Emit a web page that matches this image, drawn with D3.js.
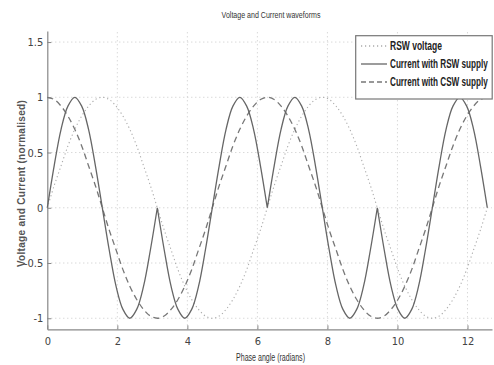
<!DOCTYPE html>
<html><head><meta charset="utf-8">
<script src="https://cdn.jsdelivr.net/npm/d3@7"></script>
<style>body{margin:0;background:#fff}svg{display:block}</style>
</head><body>
<script>
// Phase angle samples (radians), step pi/16 from 0 to 4*pi
const phase = [0,0.196,0.393,0.589,0.785,0.982,1.178,1.374,1.571,1.767,1.963,2.160,2.356,2.553,2.749,2.945,3.142,
3.338,3.534,3.731,3.927,4.123,4.320,4.516,4.712,4.909,5.105,5.301,5.498,5.694,5.890,6.087,6.283,
6.480,6.676,6.872,7.069,7.265,7.461,7.658,7.854,8.050,8.247,8.443,8.639,8.836,9.032,9.228,9.425,
9.621,9.817,10.014,10.210,10.407,10.603,10.799,10.996,11.192,11.388,11.585,11.781,11.977,12.174,12.370,12.566];
const rswVoltage = [0,0.20,0.38,0.56,0.71,0.83,0.92,0.98,1,0.98,0.92,0.83,0.71,0.56,0.38,0.20,0,
-0.20,-0.38,-0.56,-0.71,-0.83,-0.92,-0.98,-1,-0.98,-0.92,-0.83,-0.71,-0.56,-0.38,-0.20,0,
0.20,0.38,0.56,0.71,0.83,0.92,0.98,1,0.98,0.92,0.83,0.71,0.56,0.38,0.20,0,
-0.20,-0.38,-0.56,-0.71,-0.83,-0.92,-0.98,-1,-0.98,-0.92,-0.83,-0.71,-0.56,-0.38,-0.20,0];
const currentRsw = [0,0.38,0.71,0.92,1,0.92,0.71,0.38,0,-0.38,-0.71,-0.92,-1,-0.92,-0.71,-0.38,0,
-0.38,-0.71,-0.92,-1,-0.92,-0.71,-0.38,0,0.38,0.71,0.92,1,0.92,0.71,0.38,0,
0.38,0.71,0.92,1,0.92,0.71,0.38,0,-0.38,-0.71,-0.92,-1,-0.92,-0.71,-0.38,0,
-0.38,-0.71,-0.92,-1,-0.92,-0.71,-0.38,0,0.38,0.71,0.92,1,0.92,0.71,0.38,0];
const currentCsw = [1,0.98,0.92,0.83,0.71,0.56,0.38,0.20,0,-0.20,-0.38,-0.56,-0.71,-0.83,-0.92,-0.98,-1,
-0.98,-0.92,-0.83,-0.71,-0.56,-0.38,-0.20,0,0.20,0.38,0.56,0.71,0.83,0.92,0.98,1,
0.98,0.92,0.83,0.71,0.56,0.38,0.20,0,-0.20,-0.38,-0.56,-0.71,-0.83,-0.92,-0.98,-1,
-0.98,-0.92,-0.83,-0.71,-0.56,-0.38,-0.20,0,0.20,0.38,0.56,0.71,0.83,0.92,0.98,1];
// sample indices where the RSW current has a sharp cusp (pi, 2pi, 3pi)
const rswCusps = [16, 32, 48];
const xTicks = [0,2,4,6,8,10,12];
const yTicks = [-1,-0.5,0,0.5,1,1.5];
const yTickLabels = ["-1","-0.5","0","0.5","1","1.5"];
const seriesNames = ["RSW voltage","Current with RSW supply","Current with CSW supply"];

const W = 494, H = 365;
const svg = d3.select("body").append("svg").attr("width", W).attr("height", H);
const font = "'Liberation Sans','Arial',sans-serif";

// squeeze a text horizontally to a target width (like the narrow reference glyphs)
function fitText(t, px, py, target, anchor, rotate) {
  const nat = t.node().getComputedTextLength();
  const sx = Math.min(1, target / nat);
  t.attr("x", 0).attr("y", 0).attr("text-anchor", anchor);
  t.attr("transform", rotate
    ? `translate(${px},${py}) rotate(-90) scale(${sx},1)`
    : `translate(${px},${py}) scale(${sx},1)`);
}

const x = d3.scaleLinear().domain([0, 12.7]).range([47.3, 492]);
const y = d3.scaleLinear().domain([-1.1, 1.6]).range([329.3, 31]);

// grid
const grid = svg.append("g");
grid.selectAll(".gx").data(xTicks.filter(d => d > 0)).enter().append("line")
  .attr("x1", d => x(d)).attr("x2", d => x(d)).attr("y1", y(-1.1)).attr("y2", y(1.6))
  .attr("stroke", "#bbb").attr("stroke-width", 0.8).attr("stroke-dasharray", "1,3");
grid.selectAll(".gy").data(yTicks).enter().append("line")
  .attr("x1", x(0)).attr("x2", x(12.7)).attr("y1", d => y(d)).attr("y2", d => y(d))
  .attr("stroke", "#bbb").attr("stroke-width", 0.8).attr("stroke-dasharray", "1,3");

// axes
const xAxis = d3.axisBottom(x).tickValues(xTicks).tickSizeInner(-4).tickSizeOuter(0).tickPadding(8);
const yAxis = d3.axisLeft(y).tickValues(yTicks).tickFormat((d, i) => yTickLabels[i]).tickSizeInner(-4).tickSizeOuter(0).tickPadding(4);
const gx = svg.append("g").attr("transform", `translate(0,${y(-1.1)})`).call(xAxis);
const gy = svg.append("g").attr("transform", `translate(${x(0)},0)`).call(yAxis);
[gx, gy].forEach(g => {
  g.select(".domain").attr("stroke", "#888").attr("stroke-width", 1.2);
  g.selectAll(".tick line").attr("stroke", "#888");
  g.selectAll(".tick text").attr("font-family", "'DejaVu Sans Condensed','Liberation Sans',sans-serif")
    .attr("font-size", 11).attr("fill", "#444");
});

// data lines
const pts = vals => phase.map((p, i) => [p, vals[i]]);
const line = d3.line().x(d => x(d[0])).y(d => y(d[1])).curve(d3.curveCatmullRom.alpha(0.5));
svg.append("path").attr("d", line(pts(rswVoltage))).attr("fill", "none")
  .attr("stroke", "#aaa").attr("stroke-width", 1.1).attr("stroke-dasharray", "1.2,2.8");
svg.append("path").attr("d", line(pts(currentCsw))).attr("fill", "none")
  .attr("stroke", "#777").attr("stroke-width", 1.3).attr("stroke-dasharray", "6,4");
// solid curve: smooth between cusps, sharp at cusps
const rswPts = pts(currentRsw);
const bounds = [0, ...rswCusps, rswPts.length - 1];
const rswPath = bounds.slice(0, -1).map((b, i) => line(rswPts.slice(b, bounds[i + 1] + 1))).join("");
svg.append("path").attr("d", rswPath).attr("fill", "none")
  .attr("stroke", "#666").attr("stroke-width", 1.3);

// title and labels
const title = svg.append("text").attr("font-family", font).attr("font-size", 9.5).attr("fill", "#333")
  .text("Voltage and Current waveforms");
fitText(title, 271, 18, 99, "middle", false);
const xl = svg.append("text").attr("font-family", font).attr("font-size", 10.5).attr("fill", "#333")
  .text("Phase angle (radians)");
fitText(xl, 270.5, 361, 69, "middle", false);
const yl = svg.append("text").attr("font-family", font).attr("font-size", 10).attr("font-weight", "bold")
  .attr("fill", "#555").attr("letter-spacing", 0.3).text("Voltage and Current (normalised)");
fitText(yl, 25, 183.5, 177, "middle", true);

// legend
const lg = svg.append("g");
lg.append("rect").attr("x", 355.7).attr("y", 35.7).attr("width", 136.5).attr("height", 63.3)
  .attr("fill", "#fff").attr("stroke", "#777").attr("stroke-width", 1.2);
const lgStyles = [
  {stroke: "#aaa", dash: "1.2,2.8"},
  {stroke: "#666", dash: null},
  {stroke: "#777", dash: "5,3"}
];
const lgY = [46, 64, 82];
const lgW = [52, 98, 98];
seriesNames.forEach((n, i) => {
  lg.append("line").attr("x1", 361).attr("x2", 387).attr("y1", lgY[i]).attr("y2", lgY[i])
    .attr("stroke", lgStyles[i].stroke).attr("stroke-width", 1.3).attr("stroke-dasharray", lgStyles[i].dash);
  const t = lg.append("text").attr("font-family", font)
    .attr("font-size", 12).attr("font-weight", "bold").attr("fill", "#222").text(n);
  fitText(t, 390, lgY[i] + 4, lgW[i], "start", false);
});
</script>
</body></html>
